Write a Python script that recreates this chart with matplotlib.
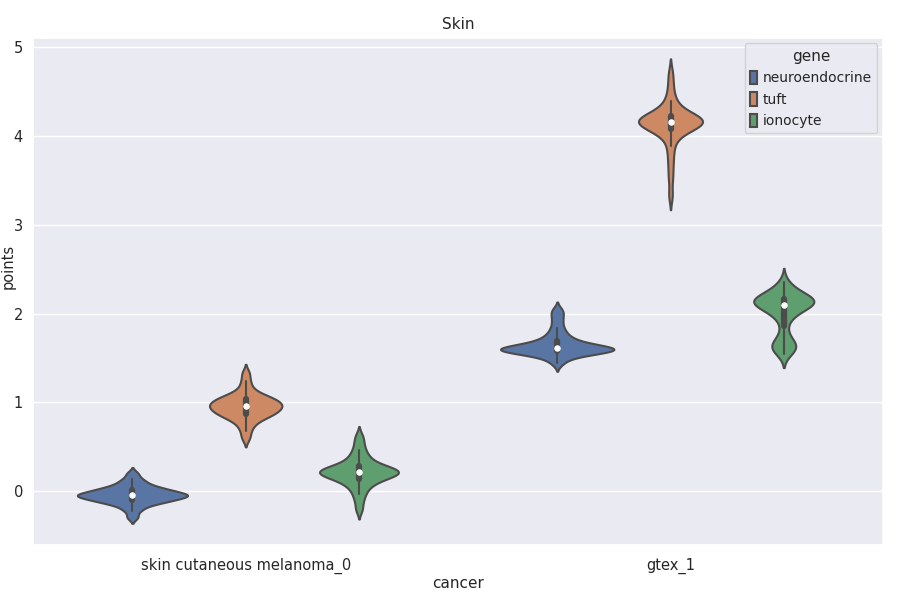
import numpy as np
import pandas as pd
import matplotlib
matplotlib.use("Agg")
from matplotlib import pyplot as plt
import seaborn as sns

# values (points per cancer / gene)
cancers = ["skin cutaneous melanoma_0", "gtex_1"]
genes = ["neuroendocrine", "tuft", "ionocyte"]

neuro_skin = [-0.29, -0.22, -0.18, -0.15, -0.13, -0.12, -0.11, -0.10, -0.09, -0.08,
              -0.07, -0.06, -0.055, -0.05, -0.045, -0.04, -0.035, -0.03, -0.02, -0.01,
              0.0, 0.01, 0.02, 0.03, 0.04, 0.06, 0.08, 0.11, 0.14, 0.20]
tuft_skin = [0.60, 0.68, 0.74, 0.78, 0.81, 0.83, 0.85, 0.86, 0.87, 0.88,
             0.90, 0.91, 0.92, 0.93, 0.94, 0.95, 0.96, 0.97, 0.98, 0.99,
             1.00, 1.01, 1.02, 1.03, 1.05, 1.06, 1.07, 1.09, 1.12, 1.17,
             1.24, 1.33]
iono_skin = [-0.20, -0.10, -0.03, 0.02, 0.06, 0.09, 0.11, 0.13, 0.15, 0.16,
             0.17, 0.18, 0.19, 0.20, 0.21, 0.215, 0.22, 0.225, 0.23, 0.24,
             0.25, 0.26, 0.27, 0.28, 0.30, 0.32, 0.35, 0.38, 0.42, 0.47,
             0.54, 0.62]
neuro_gtex = [1.44, 1.49, 1.52, 1.54, 1.55, 1.56, 1.57, 1.575, 1.58, 1.585,
              1.59, 1.595, 1.60, 1.60, 1.605, 1.61, 1.615, 1.62, 1.63, 1.64,
              1.65, 1.66, 1.68, 1.70, 1.72, 1.75, 1.79, 1.84, 1.91, 1.98,
              2.04]
tuft_gtex = [3.33, 3.52, 3.66, 3.78, 3.88, 3.96, 4.01, 4.04, 4.06, 4.08,
             4.09, 4.10, 4.11, 4.12, 4.13, 4.14, 4.15, 4.155, 4.16, 4.165,
             4.17, 4.175, 4.18, 4.19, 4.20, 4.21, 4.22, 4.23, 4.25, 4.27,
             4.30, 4.34, 4.39, 4.46, 4.57, 4.70]
iono_gtex = [1.55, 1.59, 1.62, 1.64, 1.66, 1.70, 1.80, 1.93, 1.98, 2.02,
             2.05, 2.07, 2.09, 2.10, 2.11, 2.12, 2.13, 2.14, 2.15, 2.16,
             2.17, 2.18, 2.20, 2.22, 2.25, 2.28, 2.35]

series = {
    ("skin cutaneous melanoma_0", "neuroendocrine"): neuro_skin,
    ("skin cutaneous melanoma_0", "tuft"): tuft_skin,
    ("skin cutaneous melanoma_0", "ionocyte"): iono_skin,
    ("gtex_1", "neuroendocrine"): neuro_gtex,
    ("gtex_1", "tuft"): tuft_gtex,
    ("gtex_1", "ionocyte"): iono_gtex,
}
rows = []
for (c, g), vals in series.items():
    for v in vals:
        rows.append({"cancer": c, "gene": g, "points": v})
df = pd.DataFrame(rows)

sns.set_theme(style="darkgrid")
plt.rcParams["font.family"] = ["DejaVu Sans"]

fig = plt.figure(figsize=(9, 6), dpi=100)
ax = fig.add_axes([0.037, 0.092, 0.944, 0.845])
kw = dict(x="cancer", y="points", hue="gene", data=df, order=cancers,
          hue_order=genes, ax=ax, linewidth=1.5)
try:
    sns.violinplot(bw_adjust=0.65, common_norm=True,
                   inner_kws=dict(box_width=4.5, whis_width=1.5, marker="o"), **kw)
except TypeError:
    sns.violinplot(bw=0.3, **kw)

ax.set_ylim(-0.6, 5.1)
ax.set_title("Skin", fontsize=11)
ax.set_xlabel("cancer", fontsize=11, labelpad=1)
ax.set_ylabel("points", fontsize=10.5)
ax.yaxis.set_label_coords(-0.021, 0.55)
ax.tick_params(labelsize=10.5)
ax.tick_params(axis="y", pad=1.5)
ax.legend(title="gene", loc="upper right", fontsize=10, title_fontsize=11,
          handlelength=0.5, handleheight=1.1, handletextpad=0.4,
          borderaxespad=0.4)

fig.savefig("out.png", dpi=100)
